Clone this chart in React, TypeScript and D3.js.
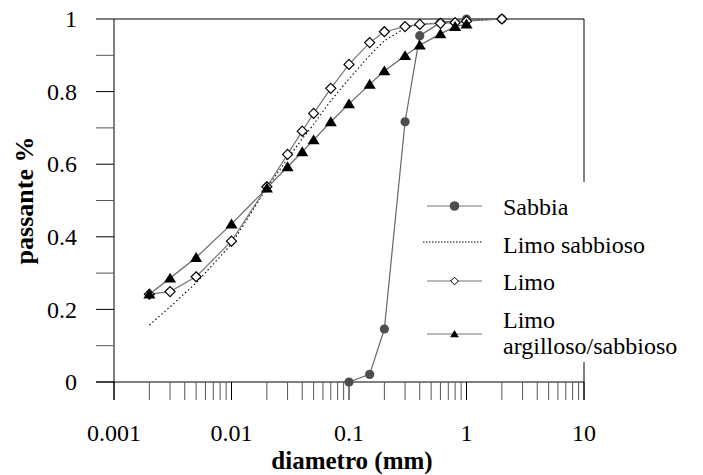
import React from 'react';
import * as d3 from 'd3';

// sieve sizes (mm) shared by the three silt curves
const sieve = [0.002, 0.003, 0.005, 0.01, 0.02, 0.03, 0.04, 0.05, 0.07, 0.1, 0.15, 0.2, 0.3, 0.4, 0.6, 0.8, 1, 2];
const limoSabbioso = [0.157, 0.207, 0.273, 0.38, 0.535, 0.615, 0.67, 0.71, 0.775, 0.835, 0.9, 0.94, 0.975, 0.985, 0.99, 0.993, 0.995, 1.0];
const limo = [0.242, 0.249, 0.29, 0.388, 0.538, 0.627, 0.691, 0.74, 0.809, 0.875, 0.935, 0.965, 0.979, 0.985, 0.988, 0.99, 0.994, 1.0];
const limoArgilloso = [0.242, 0.286, 0.343, 0.435, 0.534, 0.593, 0.634, 0.667, 0.717, 0.766, 0.82, 0.857, 0.899, 0.928, 0.959, 0.979, 0.986];

const sabbiaSieve = [0.1, 0.15, 0.2, 0.3, 0.4, 0.6, 1, 2];
const sabbia = [0, 0.021, 0.146, 0.717, 0.954, 0.99, 1, 1];

const xTickLabels = [0.001, 0.01, 0.1, 1, 10];
const yTickLabels = [0, 0.2, 0.4, 0.6, 0.8, 1];
const legendLabels = ['Sabbia', 'Limo sabbioso', 'Limo', 'Limo argilloso/sabbioso'];

const W = 703;
const H = 475;
const margin = { top: 19, right: 119, bottom: 93, left: 114 };
const font = 'Liberation Serif';

const x = d3.scaleLog().domain([0.001, 10]).range([margin.left, W - margin.right]);
const y = d3.scaleLinear().domain([0, 1]).range([H - margin.bottom, margin.top]);

const pts = (xs: number[], ys: number[]) => ys.map((v, i) => [xs[i], v] as [number, number]);
const line = d3.line<[number, number]>().x(d => x(d[0])).y(d => y(d[1]));

const diamond = (cx: number, cy: number, r: number) =>
  `M${cx},${cy - r}L${cx + r},${cy}L${cx},${cy + r}L${cx - r},${cy}Z`;
const triangle = (cx: number, cy: number, r: number) =>
  `M${cx},${cy - r}L${cx + r * 1.1},${cy + r * 0.8}L${cx - r * 1.1},${cy + r * 0.8}Z`;

const App = () => {
  const x0 = margin.left;
  const x1 = W - margin.right;
  const y0 = H - margin.bottom;
  const y1 = margin.top;
  const tickLen = 18;

  const minorX: number[] = [];
  for (let e = -3; e < 1; e++) {
    for (let m = 2; m <= 9; m++) minorX.push(m * Math.pow(10, e));
  }
  const yTicks = d3.range(0, 11).map(i => i / 10);

  const sabbiaPts = pts(sabbiaSieve, sabbia);
  const lsPts = pts(sieve, limoSabbioso);
  const limoPts = pts(sieve, limo);
  const laPts = pts(sieve, limoArgilloso);

  // legend rows
  const lgX0 = 427;
  const lgX1 = 482;
  const lgMid = (lgX0 + lgX1) / 2;
  const lgText = 503;
  const rowY = [206, 242, 281, 334];

  return (
    <svg width={W} height={H} fontFamily={font} style={{ display: 'block', position: 'absolute', left: 0, top: 0 }}>
      <rect width={W} height={H} fill="#fff" />

      {/* frame */}
      <line x1={x0} x2={x1} y1={y1} y2={y1} stroke="#000" />
      <line x1={x1} x2={x1} y1={y1} y2={y0 + tickLen} stroke="#000" />
      <line x1={x0 - tickLen} x2={x1} y1={y0} y2={y0} stroke="#000" />
      <line x1={x0} x2={x0} y1={y1} y2={y0 + tickLen} stroke="#000" />

      {/* y ticks */}
      {yTicks.map(t => (
        <line key={t} x1={x0 - tickLen} x2={x0} y1={y(t)} y2={y(t)} stroke={Math.round(t * 10) % 2 ? '#555' : '#000'} />
      ))}
      {yTickLabels.map(t => (
        <text key={t} x={77} y={y(t)} dy="0.34em" textAnchor="end" fontSize={24} fontFamily={font}>{t}</text>
      ))}

      {/* x ticks */}
      {xTickLabels.map(t => (
        <line key={t} x1={x(t)} x2={x(t)} y1={y0} y2={y0 + tickLen} stroke="#000" />
      ))}
      {minorX.map(t => (
        <line key={t} x1={x(t)} x2={x(t)} y1={y0} y2={y0 + tickLen} stroke="#555" />
      ))}
      {xTickLabels.map(t => (
        <text key={t} x={x(t)} y={441} textAnchor="middle" fontSize={24} fontFamily={font}>{t}</text>
      ))}

      {/* axis titles */}
      <text x={(x0 + x1) / 2 + 3} y={469} textAnchor="middle" fontSize={25} fontWeight="bold" fontFamily={font}>diametro (mm)</text>
      <text transform={`translate(33,${(y0 + y1) / 2}) rotate(-90)`} textAnchor="middle" fontSize={26} fontWeight="bold" fontFamily={font}>passante %</text>

      {/* Sabbia */}
      <path d={line(sabbiaPts) || ''} fill="none" stroke="#666" strokeWidth={1.2} />
      {sabbiaPts.map((d, i) => (
        <circle key={i} cx={x(d[0])} cy={y(d[1])} r={4.6} fill="#4d4d4d" />
      ))}

      {/* Limo sabbioso */}
      <path d={line(lsPts) || ''} fill="none" stroke="#000" strokeWidth={1.1} strokeDasharray="1.5,2.5" />

      {/* Limo */}
      <path d={line(limoPts) || ''} fill="none" stroke="#777" strokeWidth={1.2} />
      {limoPts.map((d, i) => (
        <path key={i} d={diamond(x(d[0]), y(d[1]), 5)} fill="#fff" stroke="#000" strokeWidth={1.2} />
      ))}

      {/* Limo argilloso/sabbioso */}
      <path d={line(laPts) || ''} fill="none" stroke="#666" strokeWidth={1.2} />
      {laPts.map((d, i) => (
        <path key={i} d={triangle(x(d[0]), y(d[1]), 5.5)} fill="#000" />
      ))}

      {/* legend */}
      <rect x={420} y={182} width={W - 420} height={180} fill="#fff" />
      <line x1={lgX0} x2={lgX1} y1={rowY[0]} y2={rowY[0]} stroke="#777" strokeWidth={1.2} />
      <circle cx={lgMid} cy={rowY[0]} r={4.8} fill="#4d4d4d" />
      <line x1={lgX0 - 4} x2={lgX1} y1={rowY[1]} y2={rowY[1]} stroke="#000" strokeWidth={1} strokeDasharray="1.5,1.5" />
      <line x1={lgX0} x2={lgX1} y1={rowY[2]} y2={rowY[2]} stroke="#777" strokeWidth={1.2} />
      <path d={diamond(lgMid, rowY[2], 3.8)} fill="#fff" stroke="#000" strokeWidth={1} />
      <line x1={lgX0} x2={lgX1} y1={rowY[3]} y2={rowY[3]} stroke="#777" strokeWidth={1.2} />
      <path d={triangle(lgMid, rowY[3], 4)} fill="#000" />

      <text x={lgText} y={215} fontSize={24} fontFamily={font}>{legendLabels[0]}</text>
      <text x={lgText} y={253} fontSize={24} fontFamily={font}>{legendLabels[1]}</text>
      <text x={lgText} y={290} fontSize={24} fontFamily={font}>{legendLabels[2]}</text>
      <text x={lgText} y={328} fontSize={24} fontFamily={font}>{legendLabels[3].split(' ')[0]}</text>
      <text x={lgText} y={354} fontSize={24} fontFamily={font}>{legendLabels[3].split(' ')[1]}</text>
    </svg>
  );
};

export default App;
